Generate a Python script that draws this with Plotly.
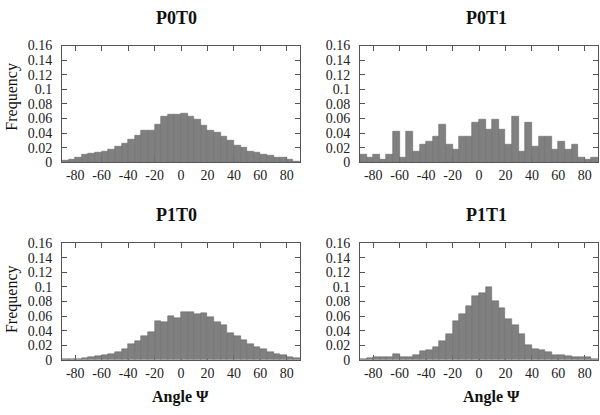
import plotly.graph_objects as go
from plotly.subplots import make_subplots

# ── Data: frequency per 5-degree bin, from -90 to 90 ─────────────────────────
BIN_CENTERS = [-87.5 + 5 * i for i in range(36)]

P0T0 = [0.002, 0.004, 0.007, 0.010, 0.012, 0.013, 0.015, 0.017, 0.022,
        0.026, 0.031, 0.036, 0.044, 0.044, 0.051, 0.062, 0.066, 0.066,
        0.067, 0.062, 0.059, 0.050, 0.043, 0.040, 0.035, 0.030, 0.023,
        0.020, 0.015, 0.013, 0.010, 0.009, 0.007, 0.006, 0.003, 0.001]

P0T1 = [0.010, 0.007, 0.010, 0.0035, 0.010, 0.042, 0.007, 0.042, 0.014,
        0.024, 0.028, 0.035, 0.052, 0.024, 0.017, 0.035, 0.035, 0.055,
        0.059, 0.045, 0.059, 0.045, 0.024, 0.062, 0.014, 0.055, 0.021,
        0.035, 0.035, 0.017, 0.028, 0.017, 0.024, 0.007, 0.0035, 0.007]

P1T0 = [0.0005, 0.001, 0.0015, 0.002, 0.003, 0.005, 0.006, 0.008, 0.011,
        0.015, 0.021, 0.025, 0.033, 0.038, 0.053, 0.051, 0.060, 0.057,
        0.066, 0.066, 0.063, 0.064, 0.059, 0.052, 0.047, 0.037, 0.033,
        0.027, 0.022, 0.017, 0.014, 0.011, 0.008, 0.006, 0.004, 0.002]

P1T1 = [0.001, 0.002, 0.003, 0.003, 0.004, 0.008, 0.003, 0.003, 0.006,
        0.012, 0.013, 0.018, 0.025, 0.035, 0.053, 0.063, 0.073, 0.087,
        0.091, 0.099, 0.080, 0.071, 0.056, 0.047, 0.035, 0.020, 0.015,
        0.013, 0.010, 0.007, 0.006, 0.005, 0.003, 0.004, 0.003, 0.001]

PANELS = [("P0T0", P0T0), ("P0T1", P0T1), ("P1T0", P1T0), ("P1T1", P1T1)]

X_TICKS = [-80, -60, -40, -20, 0, 20, 40, 60, 80]
X_TICKTEXT = ["-80", "-60", "-40", "-20", "0", "20", "40", "60", "80"]
Y_TICKS = [0, 0.02, 0.04, 0.06, 0.08, 0.1, 0.12, 0.14, 0.16]
Y_TICKTEXT = ["0", "0.02", "0.04", "0.06", "0.08", "0.1", "0.12", "0.14", "0.16"]

BAR_COLOR = "#808080"
FRAME_COLOR = "#555555"
FONT = "Liberation Serif, Times New Roman, serif"

W, H = 600, 415

fig = make_subplots(rows=2, cols=2)

# plot areas in pixels (left, right, top, bottom)
boxes = [(62, 300, 40, 161), (360, 598, 40, 161),
         (62, 300, 245, 366), (360, 598, 245, 366)]

for i, ((name, vals), (l, r, t, b)) in enumerate(zip(PANELS, boxes)):
    row, col = i // 2 + 1, i % 2 + 1
    fig.add_trace(go.Bar(
        x=BIN_CENTERS, y=vals, width=5,
        marker=dict(color=BAR_COLOR, line=dict(color="#6c6c6c", width=0.6)),
        showlegend=False,
    ), row=row, col=col)
    fig.update_xaxes(
        domain=[l / W, r / W], range=[-90, 90],
        tickvals=X_TICKS, ticktext=X_TICKTEXT,
        ticks="inside", ticklen=5, tickcolor=FRAME_COLOR,
        showline=True, linecolor=FRAME_COLOR, linewidth=1, mirror="allticks",
        showgrid=False, zeroline=False, layer="below traces",
        tickfont=dict(family=FONT, size=14, color="#222"),
        row=row, col=col,
    )
    fig.update_yaxes(
        domain=[1 - b / H, 1 - t / H], range=[0, 0.16],
        tickvals=Y_TICKS, ticktext=Y_TICKTEXT,
        ticks="inside", ticklen=5, tickcolor=FRAME_COLOR,
        showline=True, linecolor=FRAME_COLOR, linewidth=1, mirror="allticks",
        showgrid=False, zeroline=False, layer="below traces",
        ticklabelstandoff=6,
        tickfont=dict(family=FONT, size=14, color="#222"),
        row=row, col=col,
    )
    # panel title
    cx = 176 if col == 1 else 486
    ty = 11 if row == 1 else 216
    fig.add_annotation(text="<b>%s</b>" % name, x=cx / W, y=1 - ty / H,
                       xref="paper", yref="paper", showarrow=False,
                       xanchor="center", yanchor="middle",
                       font=dict(family=FONT, size=18, color="#111"))

# axis titles
for ty in (93, 303):
    fig.add_annotation(text="Frequency", x=12 / W, y=1 - ty / H,
                       xref="paper", yref="paper", showarrow=False, textangle=-90,
                       xanchor="center", yanchor="middle",
                       font=dict(family=FONT, size=16, color="#111"))
for cx in (180, 492):
    fig.add_annotation(text="<b>Angle Ψ</b>", x=cx / W, y=1 - 405 / H,
                       xref="paper", yref="paper", showarrow=False,
                       xanchor="center", yanchor="middle",
                       font=dict(family=FONT, size=16, color="#111"))

fig.update_layout(
    width=W, height=H,
    margin=dict(l=0, r=0, t=0, b=0),
    paper_bgcolor="white", plot_bgcolor="white",
    font=dict(family=FONT),
    bargap=0,
)

fig.write_html("out.html", config={"displayModeBar": False},
               post_script="document.body.style.margin='0';")
